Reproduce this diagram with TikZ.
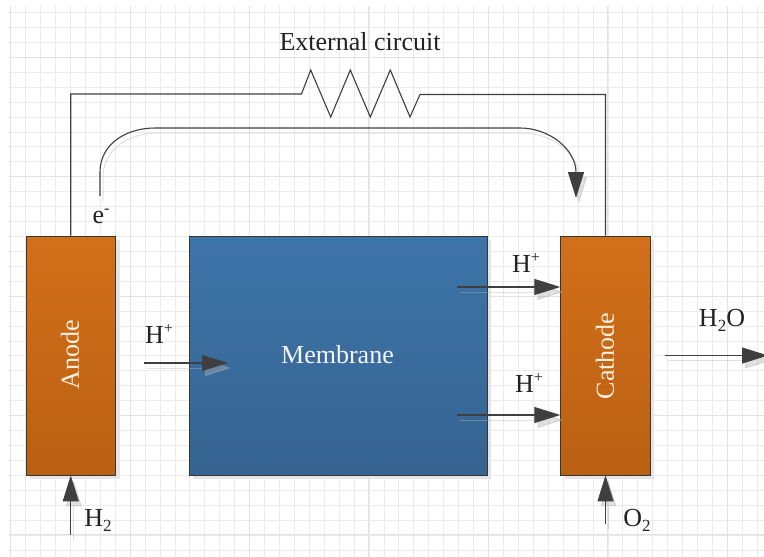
\documentclass[tikz,border=0pt]{standalone}
\usepackage{fontspec}
\setmainfont{Liberation Serif}
\usetikzlibrary{arrows.meta,shadows}
\definecolor{inkc}{HTML}{3F3F3F}
\definecolor{txtc}{HTML}{222222}
\definecolor{minorc}{HTML}{EBEBEB}
\definecolor{majorc}{HTML}{E2E2E2}
\definecolor{orangetop}{HTML}{D2701A}
\definecolor{orangebot}{HTML}{BA6013}
\definecolor{bluetop}{HTML}{3D74A9}
\definecolor{bluebot}{HTML}{366491}
\newcommand\lowtxt[1]{\raisebox{-5pt}{\fontsize{17}{17}\selectfont #1}}
\newcommand\hightxt[1]{\raisebox{10pt}{\fontsize{16}{16}\selectfont #1}}
\tikzset{
  lab/.style={font=\fontsize{26}{30}\selectfont, text=txtc, inner sep=0pt},
  boxbase/.style={draw=inkc!85!black, line width=0.9pt, minimum height=239pt, inner sep=0pt, anchor=center,
     general shadow={fill=black!10, shadow xshift=4pt, shadow yshift=-4pt}},
  electrode/.style={boxbase, minimum width=89.5pt, top color=orangetop, bottom color=orangebot},
  membranebox/.style={boxbase, minimum width=298pt, top color=bluetop, bottom color=bluebot},
  boxlab/.style={font=\fontsize{26}{30}\selectfont, text=#1, inner sep=0pt},
  wire/.style={draw=inkc, line width=1.1pt, line join=miter},
  flow/.style={wire, -{Triangle[length=26pt,width=16pt]}},
  flowsh/.style={draw=black!30, opacity=.4, line width=1pt, -{Triangle[length=26pt,width=16pt]},
     transform canvas={shift={(3pt,-5pt)}}},
}
\begin{document}
\begin{tikzpicture}[x=1pt,y=-1pt]
\useasboundingbox (0,0) rectangle (764,557);
\fill[white] (0,0) rectangle (764,557);
% grid
\foreach \i in {0,...,50} {
  \pgfmathsetmacro\gx{10.7+14.93*\i}
  \draw[minorc, line width=.8pt] (\gx,6) -- (\gx,557);
}
\foreach \i in {0,...,36} {
  \pgfmathsetmacro\gy{12.5+14.93*\i}
  \draw[minorc, line width=.8pt] (9,\gy) -- (764,\gy);
}
\foreach \i in {0,...,6} {
  \pgfmathsetmacro\gx{10.7+119.4*\i}
  \draw[majorc, line width=1pt] (\gx,6) -- (\gx,557);
}
\foreach \i in {0,...,4} {
  \pgfmathsetmacro\gy{57.3+119.4*\i}
  \draw[majorc, line width=1pt] (9,\gy) -- (764,\gy);
}
% boxes
\node[electrode] (anode) at (70.75,355.5) {};
\node[membranebox] (membrane) at (338,355.5) {};
\node[electrode] (cathode) at (605.5,355.5) {};
\node[boxlab=orange!12!white, rotate=90] (anodetxt) at (70,355) {Anode};
\node[boxlab=orange!12!white, rotate=90] (cathodetxt) at (605,356) {Cathode};
\node[boxlab=blue!4!white] (membranetxt) at (337.5,355) {Membrane};
% coordinates
\coordinate (rs) at (301.5,94);
\coordinate (r1) at (310.7,70);
\coordinate (r2) at (330.7,117);
\coordinate (r3) at (350.3,70);
\coordinate (r4) at (370.3,117);
\coordinate (r5) at (390.3,70);
\coordinate (r6) at (410,117);
\coordinate (re) at (420,94.5);
\coordinate (estart) at (100,196);
\coordinate (etip) at (576,198);
\coordinate (hl) at (144,363);
\coordinate (hle) at (228,363);
\coordinate (hu) at (457,287);
\coordinate (hue) at (cathode.west |- hu);
\coordinate (hd) at (457,415);
\coordinate (hde) at (cathode.west |- hd);
\coordinate (wo) at (665,355.5);
\coordinate (woe) at (768,355.5);
\coordinate (h2s) at (anode.south |- 0,535);
\coordinate (o2s) at (cathode.south |- 0,524);
% shadows of arrows
\draw[flowsh] (hl) -- (hle);
\draw[flowsh] (hu) -- (hue);
\draw[flowsh] (hd) -- (hde);
\draw[flowsh] (wo) -- (woe);
\draw[flowsh] (h2s) -- (anode.south);
\draw[flowsh] (o2s) -- (cathode.south);
\draw[flowsh] (estart) -- (100,172) .. controls (100,145) and (125,128) .. (155,128) -- (520,128) .. controls (550,128) and (576,150) .. (etip);
% wires
\draw[wire] (anode.north) |- (rs) -- (r1) -- (r2) -- (r3) -- (r4) -- (r5) -- (r6) -- (re) -| (cathode.north);
\draw[flow] (estart) -- (100,172) .. controls (100,145) and (125,128) .. (155,128) -- (520,128) .. controls (550,128) and (576,150) .. (etip);
\draw[flow] (hl) -- (hle);
\draw[flow] (hu) -- (hue);
\draw[flow] (hd) -- (hde);
\draw[flow] (wo) -- (woe);
\draw[flow] (h2s) -- (anode.south);
\draw[flow] (o2s) -- (cathode.south);
% labels
\node[lab] (ext) at (360,42) {External circuit};
\node[lab] (el) at (101,216) {e\hightxt{-}};
\node[lab] (hp1) at (159,334) {H\hightxt{+}};
\node[lab] (hp2) at (526,263) {H\hightxt{+}};
\node[lab] (hp3) at (529,383) {H\hightxt{+}};
\node[lab] (hto) at (722,320) {H\lowtxt{2}O};
\node[lab] (htwo) at (98,520) {H\lowtxt{2}};
\node[lab] (otwo) at (637,520) {O\lowtxt{2}};
\end{tikzpicture}
\end{document}
